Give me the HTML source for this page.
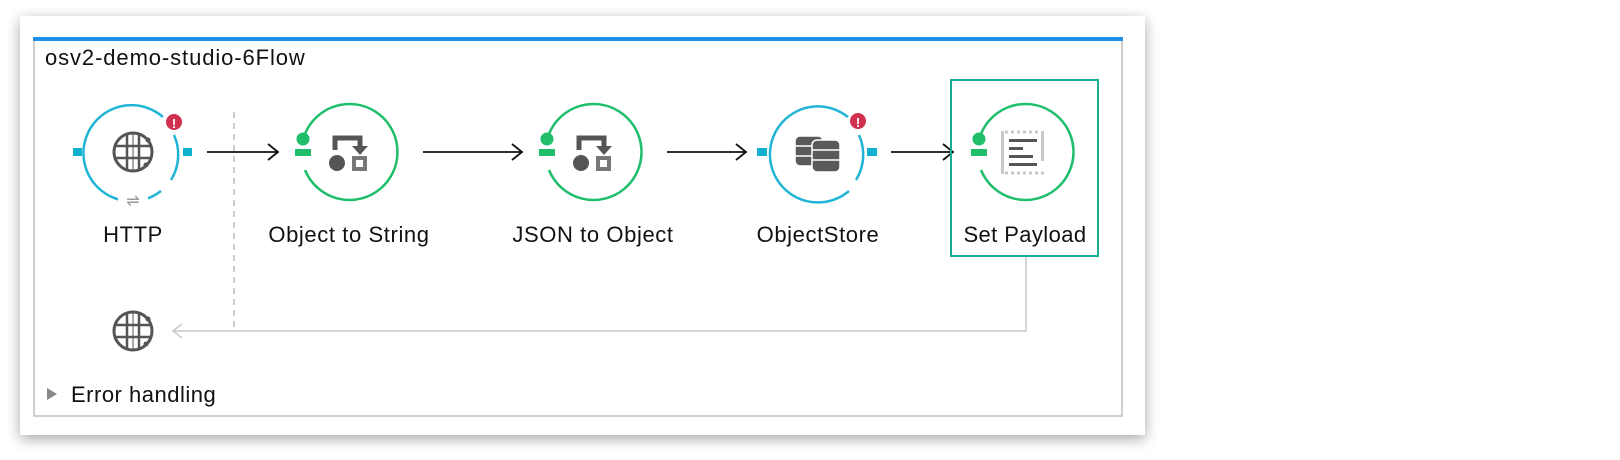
<!DOCTYPE html>
<html><head><meta charset="utf-8"><style>
html,body{margin:0;padding:0;background:#fff;width:1620px;height:460px;overflow:hidden}
svg{display:block}
text{font-family:"Liberation Sans",Arial,sans-serif;fill:#111}
</style></head><body>
<svg width="1620" height="460" viewBox="0 0 1620 460" xmlns="http://www.w3.org/2000/svg">
<defs>
<filter id="sh" x="-5%" y="-10%" width="110%" height="125%">
<feGaussianBlur in="SourceAlpha" stdDeviation="7"/><feOffset dy="4"/>
<feComponentTransfer><feFuncA type="linear" slope="0.35"/></feComponentTransfer>
<feMerge><feMergeNode/><feMergeNode in="SourceGraphic"/></feMerge></filter>
<g id="globe">
<circle cx="0" cy="0" r="19" fill="none" stroke="#555" stroke-width="3"/>
<line x1="-19" y1="-6" x2="19" y2="-6" stroke="#555" stroke-width="2.5"/>
<line x1="-19" y1="6" x2="19" y2="6" stroke="#555" stroke-width="2.5"/>
<line x1="-6" y1="-19" x2="-6" y2="19" stroke="#555" stroke-width="2.5"/>
<line x1="6" y1="-19" x2="6" y2="19" stroke="#555" stroke-width="2.5"/>
<line x1="0" y1="-19" x2="0" y2="19" stroke="#555" stroke-width="1"/>
<circle cx="15" cy="-12" r="2.5" fill="#555"/><circle cx="13" cy="13" r="2.5" fill="#555"/>
</g>
<g id="xform">
<path d="M-14 -2 V-14 H11 V-6" fill="none" stroke="#555" stroke-width="5"/>
<path d="M3 -6 H19 L11 3 Z" fill="#555"/>
<circle cx="-12" cy="11" r="8" fill="#555"/>
<rect x="3" y="4" width="15" height="15" fill="#777"/><rect x="7" y="8" width="7" height="7" fill="#fff"/>
</g>
<g id="gnode">
<path d="M-46 -12 A48 48 0 1 1 -44 18" fill="none" stroke="#1fbe6a" stroke-width="2.5"/>
<circle cx="-46" cy="-13" r="6.5" fill="#1fbe6a"/><rect x="-54" y="-3" width="16" height="7" fill="#1fbe6a"/>
</g>
</defs>
<rect x="20" y="16" width="1125" height="419" fill="#fff" filter="url(#sh)"/>
<rect x="34" y="39" width="1088" height="377" fill="#fff" stroke="#cfcfcf" stroke-width="2"/>
<rect x="33" y="37" width="1090" height="4" fill="#1e8fe8"/>
<text x="45" y="65" font-size="22" letter-spacing="0.9">osv2-demo-studio-6Flow</text>

<line x1="234" y1="112" x2="234" y2="331" stroke="#bbb" stroke-width="1.5" stroke-dasharray="6,5"/>
<polyline points="1026,256 1026,331 173,331" fill="none" stroke="#c8c8c8" stroke-width="1.5"/>
<polyline points="182,324 173,331 182,338" fill="none" stroke="#c8c8c8" stroke-width="1.5"/>
<use href="#globe" x="133" y="331"/>

<g stroke="#111" stroke-width="1.8" fill="none">
<line x1="207" y1="152" x2="278" y2="152"/><polyline points="268,144 278,152 268,160"/>
<line x1="423" y1="152" x2="522" y2="152"/><polyline points="512,144 522,152 512,160"/>
<line x1="667" y1="152" x2="746" y2="152"/><polyline points="736,144 746,152 736,160"/>
<line x1="891" y1="152" x2="953" y2="152"/><polyline points="943,144 953,152 943,160"/>
</g>

<!-- HTTP -->
<path d="M163 117 A48 48 0 1 0 161 191" fill="none" stroke="#20b5d6" stroke-width="2.5"/>
<path d="M174 135 A48 48 0 0 1 171 180" fill="none" stroke="#20b5d6" stroke-width="2.5"/>
<rect x="73" y="148" width="9" height="8" fill="#10b1cf"/><rect x="183" y="148" width="9" height="8" fill="#10b1cf"/>
<rect x="118" y="193" width="30" height="14" fill="#fff"/>
<text x="133" y="206" font-size="16" text-anchor="middle" style="fill:#999">⇌</text>
<circle cx="174" cy="122" r="8" fill="#d1304f"/><text x="174" y="128" font-size="13" font-weight="bold" text-anchor="middle" style="fill:#fff">!</text>
<use href="#globe" x="133" y="152"/>
<text x="133" y="242" font-size="22" letter-spacing="0.6" text-anchor="middle">HTTP</text>

<use href="#gnode" x="349" y="152"/>
<use href="#xform" x="349" y="152"/>
<text x="349" y="242" font-size="22" letter-spacing="0.6" text-anchor="middle">Object to String</text>

<use href="#gnode" x="593" y="152"/>
<use href="#xform" x="593" y="152"/>
<text x="593" y="242" font-size="22" letter-spacing="0.6" text-anchor="middle">JSON to Object</text>

<!-- ObjectStore -->
<path d="M848 117 A48 48 0 1 0 849 191" fill="none" stroke="#20b5d6" stroke-width="2.5"/>
<path d="M859 135 A48 48 0 0 1 856 180" fill="none" stroke="#20b5d6" stroke-width="2.5"/>
<rect x="757" y="148" width="10" height="8" fill="#10b1cf"/><rect x="867" y="148" width="10" height="8" fill="#10b1cf"/>
<circle cx="858" cy="121" r="8" fill="#d1304f"/><text x="858" y="127" font-size="13" font-weight="bold" text-anchor="middle" style="fill:#fff">!</text>
<g fill="#5a5a5a" stroke="#fff" stroke-width="1.5">
<rect x="795" y="136" width="28" height="30" rx="5"/>
<rect x="812" y="140" width="28" height="32" rx="5"/>
</g>
<g stroke="#fff" stroke-width="1.5"><line x1="795" y1="146" x2="812" y2="146"/><line x1="795" y1="156" x2="812" y2="156"/><line x1="812" y1="150" x2="840" y2="150"/><line x1="812" y1="160" x2="840" y2="160"/></g>
<text x="818" y="242" font-size="22" letter-spacing="0.6" text-anchor="middle">ObjectStore</text>

<!-- Set Payload -->
<rect x="951" y="80" width="147" height="176" fill="none" stroke="#17ad95" stroke-width="2"/>
<use href="#gnode" x="1025" y="152"/>
<rect x="1001" y="131" width="3" height="43" fill="#c8c8c8"/>
<rect x="1041" y="131" width="3" height="30" fill="#c8c8c8"/>
<line x1="1005" y1="132" x2="1040" y2="132" stroke="#c8c8c8" stroke-width="3" stroke-dasharray="3,3"/>
<line x1="1005" y1="173" x2="1044" y2="173" stroke="#c8c8c8" stroke-width="3" stroke-dasharray="3,3"/>
<g fill="#555"><rect x="1009" y="139" width="28" height="3"/><rect x="1009" y="147" width="14" height="3"/><rect x="1009" y="155" width="24" height="3"/><rect x="1009" y="163" width="28" height="3"/></g>
<text x="1025" y="242" font-size="22" letter-spacing="0.4" text-anchor="middle">Set Payload</text>

<path d="M47 388 L57 394 L47 400 Z" fill="#888"/>
<text x="71" y="402" font-size="22" letter-spacing="0.5">Error handling</text>
</svg>
</body></html>
